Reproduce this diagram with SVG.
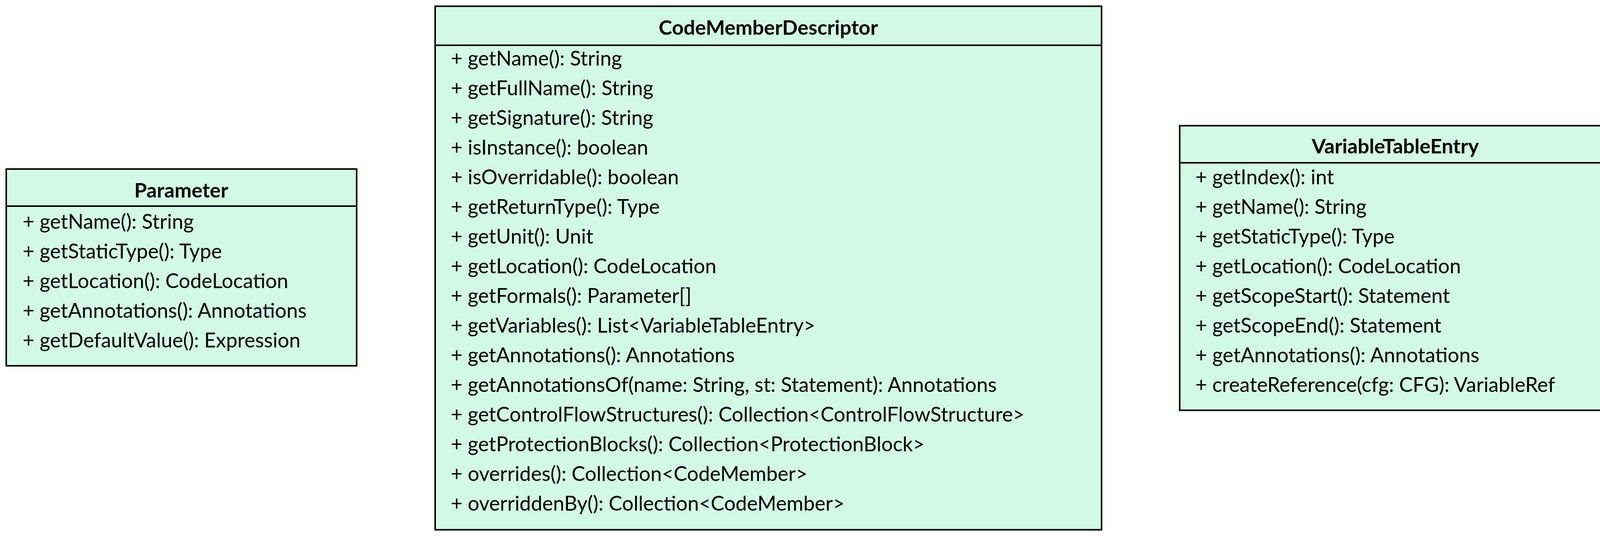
<svg xmlns="http://www.w3.org/2000/svg" width="4139" height="1373" viewBox="0 0 4139 1373">
<style>
.box{fill:#d2f8e6;stroke:#000;stroke-width:4}
.ln{stroke:#000;stroke-width:4}
text{font-family:Lato,"Open Sans","Liberation Sans",sans-serif;font-size:52px;fill:#000}
.t{font-weight:bold;text-anchor:middle}
</style>
<rect width="4139" height="1373" fill="#fff"/>
<g id="Parameter">
<rect class="box" x="16" y="433" width="897" height="504"/>
<line class="ln" x1="16" y1="528" x2="913" y2="528"/>
<text class="t" x="464" y="506">Parameter</text>
<text x="58" y="586">+ getName(): String</text>
<text x="58" y="662">+ getStaticType(): Type</text>
<text x="58" y="738">+ getLocation(): CodeLocation</text>
<text x="58" y="814">+ getAnnotations(): Annotations</text>
<text x="58" y="890">+ getDefaultValue(): Expression</text>
</g>
<g id="CodeMemberDescriptor">
<rect class="box" x="1114" y="16" width="1706" height="1341"/>
<line class="ln" x1="1114" y1="116" x2="2820" y2="116"/>
<text class="t" x="1967" y="89">CodeMemberDescriptor</text>
<text x="1154" y="168">+ getName(): String</text>
<text x="1154" y="244">+ getFullName(): String</text>
<text x="1154" y="320">+ getSignature(): String</text>
<text x="1154" y="396">+ isInstance(): boolean</text>
<text x="1154" y="472">+ isOverridable(): boolean</text>
<text x="1154" y="548">+ getReturnType(): Type</text>
<text x="1154" y="624">+ getUnit(): Unit</text>
<text x="1154" y="700">+ getLocation(): CodeLocation</text>
<text x="1154" y="776">+ getFormals(): Parameter[]</text>
<text x="1154" y="852">+ getVariables(): List&lt;VariableTableEntry&gt;</text>
<text x="1154" y="928">+ getAnnotations(): Annotations</text>
<text x="1154" y="1004">+ getAnnotationsOf(name: String, st: Statement): Annotations</text>
<text x="1154" y="1080">+ getControlFlowStructures(): Collection&lt;ControlFlowStructure&gt;</text>
<text x="1154" y="1156">+ getProtectionBlocks(): Collection&lt;ProtectionBlock&gt;</text>
<text x="1154" y="1232">+ overrides(): Collection&lt;CodeMember&gt;</text>
<text x="1154" y="1308">+ overriddenBy(): Collection&lt;CodeMember&gt;</text>
</g>
<g id="VariableTableEntry">
<rect class="box" x="3020" y="322" width="1104" height="729"/>
<line class="ln" x1="3020" y1="417" x2="4124" y2="417"/>
<text class="t" x="3572" y="393">VariableTableEntry</text>
<text x="3060" y="472">+ getIndex(): int</text>
<text x="3060" y="548">+ getName(): String</text>
<text x="3060" y="624">+ getStaticType(): Type</text>
<text x="3060" y="700">+ getLocation(): CodeLocation</text>
<text x="3060" y="776">+ getScopeStart(): Statement</text>
<text x="3060" y="852">+ getScopeEnd(): Statement</text>
<text x="3060" y="928">+ getAnnotations(): Annotations</text>
<text x="3060" y="1004">+ createReference(cfg: CFG): VariableRef</text>
</g>
<g id="connectors"/>
</svg>
